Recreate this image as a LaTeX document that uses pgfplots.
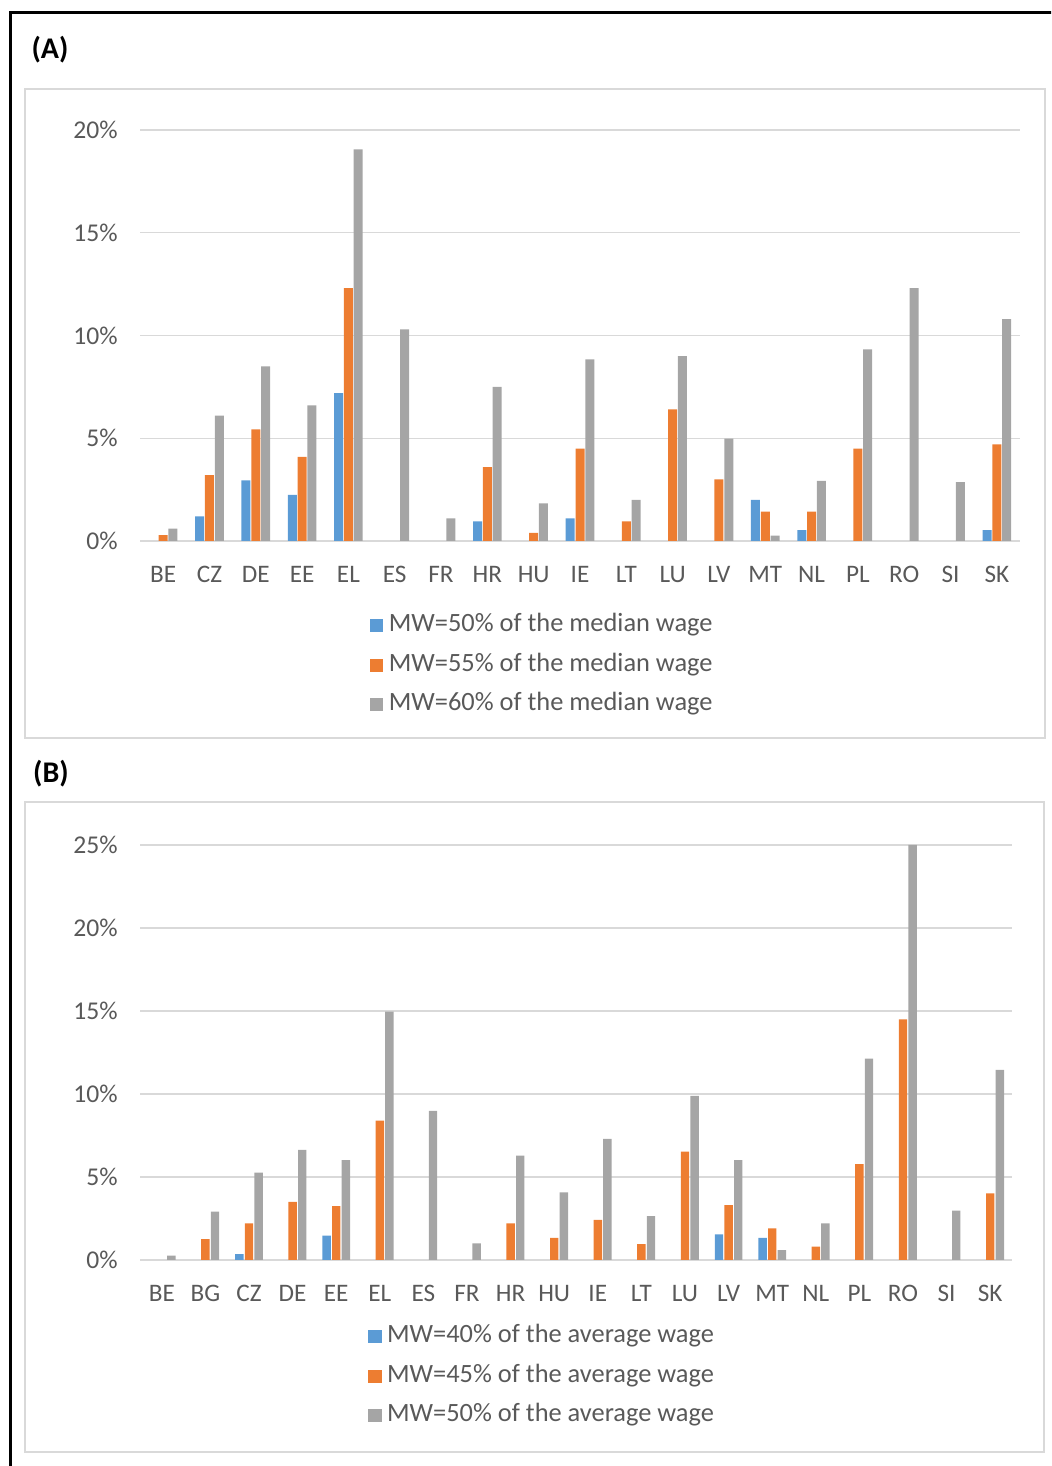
\documentclass[border=0pt]{standalone}
\usepackage{pgfplots}
\pgfplotsset{compat=1.18}
\usepackage{fontspec}
\setmainfont{Carlito}
\definecolor{cblue}{HTML}{5B9BD5}
\definecolor{corange}{HTML}{ED7D31}
\definecolor{cgray}{HTML}{A5A5A5}
\definecolor{gridc}{HTML}{D9D9D9}
\definecolor{txt}{HTML}{595959}
\pgfplotsset{
  mystyle/.style={
    scale only axis,
    axis line style={draw=none},
    major tick length=0pt,
    ymajorgrids,
    grid style={gridc, line width=0.7pt},
    xticklabel style={font=\fontsize{12.6}{15}\selectfont, text=txt, yshift=-9pt},
    yticklabel style={font=\fontsize{12.8}{15}\selectfont, text=txt, xshift=-7.6pt},
    legend style={draw=none, fill=none, font=\fontsize{13.2}{15}\selectfont, text=txt,
      row sep=7.8pt, nodes={inner sep=0pt, text height=9pt, text depth=3pt}},
    legend cell align=left,
  },
  mylegend/.style={
    legend image code/.code={\fill[##1,draw=none] (0pt,-3.3pt) rectangle (6.6pt,3.3pt); \path (9.4pt,0pt);},
  }
}
\pgfplotstableread{
x v
1 1.2
2 2.95
3 2.25
4 7.2
7 0.96
9 1.1
13 2.0
14 0.53
18 0.53
}\Ablue
\pgfplotstableread{
x v
0 0.28
1 3.2
2 5.43
3 4.09
4 12.3
7 3.6
8 0.4
9 4.5
10 0.96
11 6.4
12 3.0
13 1.43
14 1.43
15 4.5
18 4.7
}\Aorange
\pgfplotstableread{
x v
0 0.6
1 6.1
2 8.5
3 6.6
4 19.06
5 10.3
6 1.1
7 7.5
8 1.83
9 8.84
10 2.0
11 9.0
12 4.98
13 0.26
14 2.92
15 9.33
16 12.3
17 2.87
18 10.8
}\Agray
\pgfplotstableread{
x v
2 0.36
4 1.47
13 1.55
14 1.33
}\Bblue
\pgfplotstableread{
x v
1 1.25
2 2.2
3 3.5
4 3.25
5 8.4
8 2.2
9 1.33
10 2.41
11 0.96
12 6.53
13 3.31
14 1.9
15 0.8
16 5.78
17 14.5
19 4.02
}\Borange
\pgfplotstableread{
x v
0 0.26
1 2.91
2 5.26
3 6.63
4 6.02
5 14.96
6 8.98
7 1.0
8 6.29
9 4.08
10 7.29
11 2.65
12 9.88
13 6.02
14 0.6
15 2.2
16 12.13
17 25.0
18 2.97
19 11.45
}\Bgray
\begin{document}
\begin{tikzpicture}
\useasboundingbox (0pt,0pt) rectangle (525.5pt,733pt);
\clip (0pt,0pt) rectangle (525.5pt,733pt);
% outer frame
\draw[black, line width=1.5pt] (5pt,-20pt) -- (5pt,726.5pt) -- (560pt,726.5pt);
% panel boxes
\draw[gridc, line width=1pt] (12.5pt,364pt) rectangle (522.5pt,688.5pt);
\draw[gridc, line width=1pt] (12.5pt,7pt) rectangle (522pt,332pt);
\node[font=\fontsize{15}{18}\selectfont\bfseries] at (25pt,708pt) {(A)};
\node[font=\fontsize{15}{18}\selectfont\bfseries] at (25.5pt,346pt) {(B)};

\begin{axis}[mystyle,
  at={(70pt,462.5pt)}, anchor=south west,
  width=440pt, height=205.5pt,
  xmin=-0.5, xmax=18.5, ymin=0, ymax=20,
  ybar=0.4pt, bar width=4.5pt, mylegend,
  xtick={0,...,18},
  xticklabels={BE,CZ,DE,EE,EL,ES,FR,HR,HU,IE,LT,LU,LV,MT,NL,PL,RO,SI,SK},
  ytick={0,5,10,15,20},
  yticklabels={0\%,5\%,10\%,15\%,20\%},
  legend style={at={(0.456,-0.302)}, anchor=center},
]
\addplot[fill=cblue, draw=none] table[x=x,y=v] {\Ablue};
\addlegendentry{MW=50\% of the median wage}
\addplot[fill=corange, draw=none] table[x=x,y=v] {\Aorange};
\addlegendentry{MW=55\% of the median wage}
\addplot[fill=cgray, draw=none] table[x=x,y=v] {\Agray};
\addlegendentry{MW=60\% of the median wage}
\end{axis}

\begin{axis}[mystyle,
  at={(70pt,103pt)}, anchor=south west,
  width=436pt, height=207.5pt,
  xmin=-0.5, xmax=19.5, ymin=0, ymax=25,
  ybar=0.6pt, bar width=4.2pt, mylegend,
  xtick={0,...,19},
  xticklabels={BE,BG,CZ,DE,EE,EL,ES,FR,HR,HU,IE,LT,LU,LV,MT,NL,PL,RO,SI,SK},
  ytick={0,5,10,15,20,25},
  yticklabels={0\%,5\%,10\%,15\%,20\%,25\%},
  legend style={at={(0.46,-0.28)}, anchor=center},
]
\addplot[fill=cblue, draw=none] table[x=x,y=v] {\Bblue};
\addlegendentry{MW=40\% of the average wage}
\addplot[fill=corange, draw=none] table[x=x,y=v] {\Borange};
\addlegendentry{MW=45\% of the average wage}
\addplot[fill=cgray, draw=none] table[x=x,y=v] {\Bgray};
\addlegendentry{MW=50\% of the average wage}
\end{axis}
\end{tikzpicture}
\end{document}
